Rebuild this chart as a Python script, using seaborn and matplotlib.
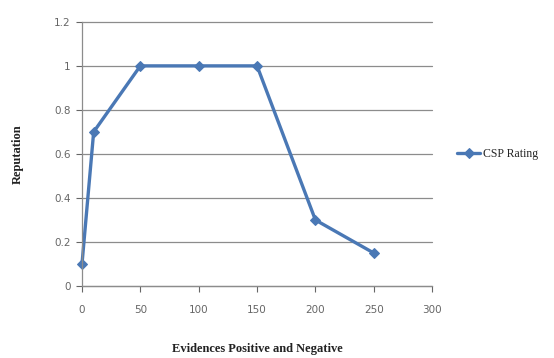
import matplotlib
matplotlib.use("Agg")
import matplotlib.pyplot as plt
import seaborn as sns
import pandas as pd

evidences = [0, 10, 50, 100, 150, 200, 250]
reputation = [0.1, 0.7, 1.0, 1.0, 1.0, 0.3, 0.15]
series_name = "CSP Rating"
x_ticks = [0, 50, 100, 150, 200, 250, 300]
y_ticks = [0, 0.2, 0.4, 0.6, 0.8, 1.0, 1.2]
y_tick_labels = ["0", "0.2", "0.4", "0.6", "0.8", "1", "1.2"]

df = pd.DataFrame({"x": evidences, "y": reputation, "s": series_name})

sns.set_style("white")
fig = plt.figure(figsize=(5.54, 3.58), dpi=100)
ax = fig.add_axes([0.148, 0.201, 0.632, 0.738])

for yv in y_ticks:
    ax.axhline(yv, color="#8c8c8c", lw=0.9, zorder=0)

sns.lineplot(data=df, x="x", y="y", hue="s", palette=["#4a78b5"], marker="D",
             markersize=5, markeredgecolor="#4a78b5", linewidth=2.4, ax=ax, legend=True)
for ln in ax.get_lines():
    ln.set_clip_on(False)

ax.set_xlim(0, 300)
ax.set_ylim(0, 1.2)
ax.set_xticks(x_ticks)
ax.set_yticks(y_ticks)
ax.set_yticklabels(y_tick_labels)
ax.tick_params(axis="both", labelsize=7.5, colors="#666666", length=4, width=0.8)
ax.tick_params(axis="x", pad=10, direction="out", bottom=True)
ax.tick_params(axis="y", direction="out", left=True, pad=4)
for lab in ax.get_xticklabels() + ax.get_yticklabels():
    lab.set_color("#666666")

for side in ["top", "right"]:
    ax.spines[side].set_visible(False)
for side in ["left", "bottom"]:
    ax.spines[side].set_color("#8c8c8c")
    ax.spines[side].set_linewidth(0.9)

ax.set_xlabel("Evidences Positive and Negative", family="Liberation Serif",
              fontsize=9, fontweight="bold", labelpad=20, color="#222222")
ax.set_ylabel("Reputation", family="Liberation Serif", fontsize=9,
              fontweight="bold", labelpad=22, color="#222222")

h, l = ax.get_legend_handles_labels()
leg = ax.legend(h, l, loc="center left", bbox_to_anchor=(1.04, 0.5), frameon=False,
                prop={"family": "Liberation Serif", "size": 8.5}, handlelength=2.0,
                handletextpad=0.2)

fig.savefig("out.png", dpi=100)
